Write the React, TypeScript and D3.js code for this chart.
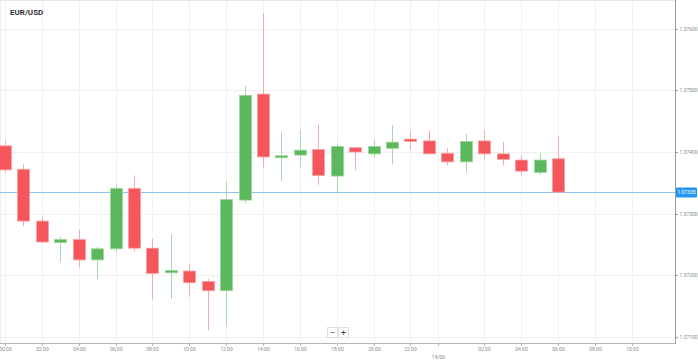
import * as d3 from 'd3';
import React from 'react';

// hourly candles, 18/06 00:00 -> 19/06 06:00
const hours = [
    '2024-06-18T00:00', '2024-06-18T01:00', '2024-06-18T02:00', '2024-06-18T03:00',
    '2024-06-18T04:00', '2024-06-18T05:00', '2024-06-18T06:00', '2024-06-18T07:00',
    '2024-06-18T08:00', '2024-06-18T09:00', '2024-06-18T10:00', '2024-06-18T11:00',
    '2024-06-18T12:00', '2024-06-18T13:00', '2024-06-18T14:00', '2024-06-18T15:00',
    '2024-06-18T16:00', '2024-06-18T17:00', '2024-06-18T18:00', '2024-06-18T19:00',
    '2024-06-18T20:00', '2024-06-18T21:00', '2024-06-18T22:00', '2024-06-18T23:00',
    '2024-06-19T00:00', '2024-06-19T01:00', '2024-06-19T02:00', '2024-06-19T03:00',
    '2024-06-19T04:00', '2024-06-19T05:00', '2024-06-19T06:00'
];
const open = [
    1.07410, 1.07372, 1.07288, 1.07253, 1.07258, 1.07225, 1.07243, 1.07341,
    1.07244, 1.07204, 1.07207, 1.07190, 1.07175, 1.07322, 1.07494, 1.07393,
    1.07395, 1.07404, 1.07361, 1.07407, 1.07397, 1.07406, 1.07421, 1.07418,
    1.07398, 1.07384, 1.07418, 1.07397, 1.07387, 1.07367, 1.07389
];
const high = [
    1.07418, 1.07380, 1.07295, 1.07262, 1.07274, 1.07246, 1.07347, 1.07362,
    1.07259, 1.07267, 1.07218, 1.07194, 1.07352, 1.07507, 1.07625, 1.07432,
    1.07436, 1.07444, 1.07414, 1.07407, 1.07420, 1.07444, 1.07434, 1.07434,
    1.07406, 1.07429, 1.07436, 1.07416, 1.07394, 1.07398, 1.07425
];
const low = [
    1.07366, 1.07280, 1.07252, 1.07221, 1.07213, 1.07194, 1.07238, 1.07239,
    1.07161, 1.07162, 1.07165, 1.07111, 1.07117, 1.07317, 1.07375, 1.07353,
    1.07375, 1.07347, 1.07332, 1.07371, 1.07391, 1.07380, 1.07404, 1.07396,
    1.07378, 1.07366, 1.07388, 1.07379, 1.07362, 1.07363, 1.07333
];
const close = [
    1.07371, 1.07288, 1.07254, 1.07258, 1.07225, 1.07243, 1.07341, 1.07244,
    1.07203, 1.07208, 1.07188, 1.07175, 1.07323, 1.07492, 1.07392, 1.07394,
    1.07403, 1.07362, 1.07409, 1.07400, 1.07409, 1.07416, 1.07417, 1.07397,
    1.07384, 1.07417, 1.07397, 1.07388, 1.07369, 1.07387, 1.07335
];

const priceTicks = [1.071, 1.072, 1.073, 1.074, 1.075, 1.076];
const timeTicks = [
    '2024-06-18T00:00', '2024-06-18T02:00', '2024-06-18T04:00', '2024-06-18T06:00',
    '2024-06-18T08:00', '2024-06-18T10:00', '2024-06-18T12:00', '2024-06-18T14:00',
    '2024-06-18T16:00', '2024-06-18T18:00', '2024-06-18T20:00', '2024-06-18T22:00',
    '2024-06-18T23:30', '2024-06-19T02:00', '2024-06-19T04:00', '2024-06-19T06:00',
    '2024-06-19T08:00', '2024-06-19T10:00'
];
const timeLabels = [
    '00:00', '02:00', '04:00', '06:00', '08:00', '10:00', '12:00', '14:00', '16:00',
    '18:00', '20:00', '22:00', '19/06', '02:00', '04:00', '06:00', '08:00', '10:00'
];
const symbol = 'EUR/USD';

const W = 698;
const H = 362;
const plotRight = 675;
const plotBottom = 343;
const red = '#f5565b';
const green = '#5cb85c';

export default function App() {
    const x = d3.scaleTime()
        .domain([new Date('2024-06-17T23:44'), new Date('2024-06-19T12:21')])
        .range([0, plotRight]);
    const y = d3.scaleLinear()
        .domain([1.070902, 1.076466])
        .range([plotBottom, 0]);
    const fmt = d3.format('.5f');
    const last = close[close.length - 1];
    const bw = 12;
    const font = 'Roboto, sans-serif';

    return (
        <div style={{ position: 'absolute', left: 0, top: 0 }}>
            <svg width={W} height={H} style={{ display: 'block', background: '#fff' }}>
                {/* grid */}
                {priceTicks.map((p, i) => (
                    <line key={'hg' + i} x1={0} x2={plotRight} y1={Math.round(y(p)) + 0.5}
                        y2={Math.round(y(p)) + 0.5} stroke="#f1f1f1" />
                ))}
                {timeTicks.map((t, i) => {
                    const xx = Math.round(x(new Date(t))) + 0.5;
                    return <line key={'vg' + i} x1={xx} x2={xx} y1={0} y2={plotBottom} stroke="#f1f1f1" />;
                })}
                <line x1={0} x2={plotRight} y1={0.5} y2={0.5} stroke="#e6e6e6" />
                <line x1={0.5} x2={0.5} y1={0} y2={plotBottom} stroke="#ececec" />

                {/* current price line */}
                <line x1={0} x2={plotRight} y1={Math.round(y(last)) + 0.5} y2={Math.round(y(last)) + 0.5}
                    stroke="#8cc4f0" />

                {/* candles */}
                {hours.map((h, i) => {
                    const cx = Math.round(x(new Date(h)));
                    const up = close[i] >= open[i];
                    const top = y(Math.max(open[i], close[i]));
                    const bot = y(Math.min(open[i], close[i]));
                    return (
                        <g key={'c' + i}>
                            <line x1={cx + 0.5} x2={cx + 0.5} y1={y(high[i])} y2={y(low[i])}
                                stroke={up ? '#a9d9a9' : '#f9a8aa'} />
                            <rect x={cx - bw / 2 + 0.5} y={top} width={bw} height={Math.max(bot - top, 2)}
                                fill={up ? green : red} stroke={up ? '#9fd49f' : '#f8a0a3'} strokeWidth={0.8} />
                        </g>
                    );
                })}

                {/* axes */}
                <line x1={plotRight + 0.5} x2={plotRight + 0.5} y1={0} y2={plotBottom + 1} stroke="#9a9a9a" />
                <line x1={0} x2={plotRight} y1={plotBottom + 0.5} y2={plotBottom + 0.5} stroke="#b5b5b5" />
                {priceTicks.map((p, i) => (
                    <g key={'yt' + i} transform={`translate(${plotRight},${Math.round(y(p)) + 0.5})`}>
                        <line x1={0} x2={3} stroke="#9a9a9a" />
                        <text x={4.5} dy="0.35em" fontSize={5} fontFamily={font} fill="#8a8a8a">{fmt(p)}</text>
                    </g>
                ))}
                {timeTicks.map((t, i) => {
                    const xx = Math.round(x(new Date(t))) + 0.5;
                    const isDate = timeLabels[i].indexOf('/') >= 0;
                    return (
                        <g key={'xt' + i}>
                            <line x1={xx} x2={xx} y1={plotBottom} y2={plotBottom + 3} stroke="#b5b5b5" />
                            <text x={xx} y={isDate ? 359 : 351} textAnchor="middle" fontSize={5}
                                fontFamily={font} fill="#8a8a8a">{timeLabels[i]}</text>
                        </g>
                    );
                })}

                {/* current price label */}
                <g transform={`translate(${plotRight + 1},${Math.round(y(last))})`}>
                    <rect x={0} y={-4.5} width={21} height={10} rx={1} fill="#2196f3" />
                    <text x={10.5} y={0.5} dy="0.35em" textAnchor="middle" fontSize={5} fontFamily={font}
                        fill="#fff">{fmt(last)}</text>
                </g>

                {/* zoom buttons */}
                <g fontFamily={font} fontSize={9} fill="#444" textAnchor="middle">
                    <rect x={327.5} y={327.5} width={10} height={10} fill="#fff" stroke="#e0e0e0" />
                    <text x={332.5} y={335.5}>−</text>
                    <rect x={338.5} y={327.5} width={10} height={10} fill="#fff" stroke="#e0e0e0" />
                    <text x={343.5} y={335.5}>+</text>
                </g>

                {/* title */}
                <text x={10} y={15} fontSize={8} fontWeight="bold" fontFamily={font} fill="#333">{symbol}</text>
            </svg>
        </div>
    );
}
